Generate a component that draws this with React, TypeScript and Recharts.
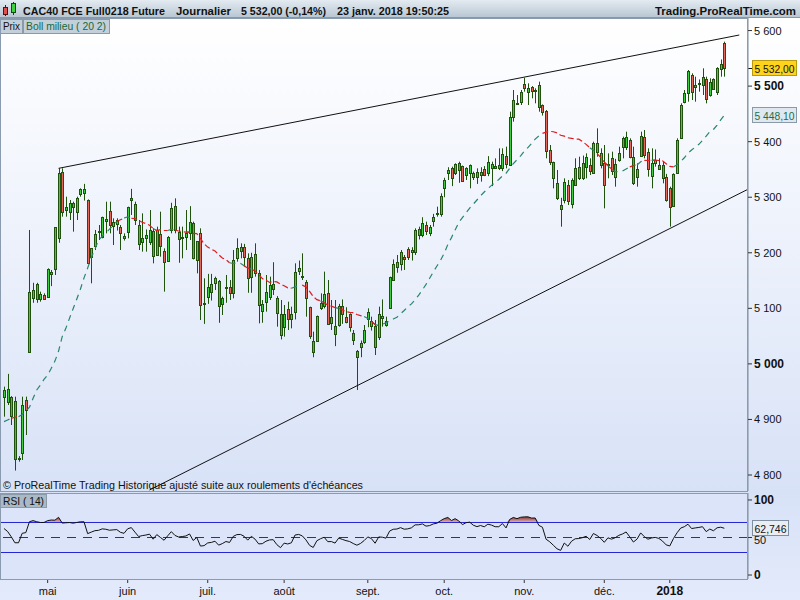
import { ComposedChart, Bar, Line, Area, XAxis, YAxis, ReferenceLine } from 'recharts'

// [open, high, low, close]
type Candle = [number, number, number, number]

const aprilCandles: Candle[] = [
  [4940, 4959, 4905, 4953], [4932, 4982, 4926, 4955], [4940, 4942, 4890, 4907], [4933, 4941, 4808, 4828],
  [4829, 4834, 4824, 4831], [4839, 4941, 4827, 4926], [4935, 4941, 4872, 4917], [5021, 5241, 5021, 5129],
  [5119, 5146, 5110, 5133], [5143, 5146, 5110, 5116], [5117, 5130, 5112, 5125], [5124, 5127, 5116, 5116],
]
const mayCandles: Candle[] = [
  [5121, 5172, 5120, 5171], [5165, 5169, 5140, 5162], [5170, 5246, 5160, 5246], [5226, 5352, 5218, 5344],
  [5345, 5352, 5265, 5273], [5277, 5301, 5265, 5282], [5274, 5295, 5259, 5289], [5289, 5292, 5238, 5282],
  [5274, 5301, 5259, 5298], [5305, 5316, 5301, 5314], [5307, 5324, 5294, 5314], [5295, 5296, 5180, 5181],
  [5193, 5208, 5145, 5208], [5213, 5241, 5205, 5233], [5237, 5250, 5223, 5239], [5229, 5265, 5226, 5264],
  [5258, 5292, 5235, 5260], [5275, 5292, 5235, 5250], [5248, 5262, 5214, 5255], [5252, 5262, 5240, 5259],
  [5246, 5250, 5205, 5235], [5231, 5235, 5222, 5226],
]
const juneCandles: Candle[] = [
  [5238, 5283, 5226, 5282], [5295, 5315, 5268, 5298], [5287, 5292, 5250, 5259], [5250, 5259, 5205, 5216],
  [5219, 5271, 5202, 5226], [5226, 5242, 5202, 5232], [5220, 5277, 5214, 5241], [5240, 5244, 5181, 5194],
  [5196, 5247, 5195, 5241], [5234, 5274, 5193, 5213], [5203, 5208, 5130, 5183], [5186, 5230, 5185, 5229],
  [5241, 5290, 5235, 5280], [5284, 5298, 5235, 5241], [5238, 5247, 5182, 5224], [5228, 5247, 5190, 5229],
  [5228, 5277, 5205, 5235], [5235, 5284, 5223, 5256], [5254, 5256, 5188, 5190], [5187, 5221, 5163, 5221],
  [5235, 5244, 5079, 5106], [5107, 5154, 5072, 5110],
]
const julyCandles: Candle[] = [
  [5120, 5162, 5108, 5138], [5130, 5162, 5114, 5143], [5145, 5157, 5133, 5155], [5150, 5151, 5074, 5104],
  [5107, 5121, 5088, 5118], [5137, 5160, 5110, 5138], [5138, 5151, 5115, 5127], [5127, 5205, 5118, 5187],
  [5190, 5226, 5184, 5208], [5204, 5217, 5190, 5210], [5210, 5216, 5176, 5193], [5190, 5199, 5128, 5154],
  [5156, 5200, 5128, 5192], [5198, 5217, 5157, 5163], [5163, 5169, 5073, 5106], [5096, 5115, 5074, 5108],
  [5111, 5160, 5094, 5130], [5121, 5157, 5115, 5142], [5134, 5183, 5124, 5144], [5118, 5122, 5067, 5091],
  [5089, 5115, 5044, 5052],
]
const augustCandles: Candle[] = [
  [5066, 5106, 5049, 5090], [5098, 5112, 5061, 5080], [5081, 5103, 5064, 5090], [5093, 5181, 5080, 5165],
  [5168, 5186, 5160, 5172], [5157, 5199, 5151, 5158], [5147, 5151, 5085, 5118], [5102, 5103, 5045, 5051],
  [5042, 5058, 5012, 5021], [5042, 5087, 5041, 5087], [5100, 5127, 5097, 5109], [5104, 5166, 5100, 5126],
  [5127, 5151, 5071, 5072], [5085, 5115, 5061, 5073], [5068, 5115, 5032, 5054], [5070, 5108, 5067, 5105],
  [5104, 5116, 5072, 5090], [5085, 5102, 5073, 5076], [5089, 5091, 5058, 5066], [5056, 5061, 5034, 5043],
  [5012, 5025, 4953, 5023], [5031, 5042, 5012, 5037], [5040, 5070, 5036, 5061],
]
const septemberCandles: Candle[] = [
  [5080, 5100, 5066, 5094], [5068, 5085, 5060, 5078], [5068, 5079, 5016, 5030], [5049, 5103, 5043, 5090],
  [5082, 5116, 5067, 5087], [5070, 5085, 5067, 5078], [5100, 5157, 5099, 5156], [5151, 5188, 5150, 5180],
  [5174, 5196, 5164, 5183], [5180, 5205, 5168, 5201], [5192, 5196, 5169, 5189], [5206, 5210, 5187, 5193],
  [5201, 5210, 5186, 5205], [5202, 5244, 5196, 5241], [5232, 5247, 5224, 5242], [5232, 5264, 5228, 5253],
  [5250, 5256, 5232, 5240], [5236, 5250, 5230, 5246], [5258, 5270, 5247, 5264], [5270, 5283, 5265, 5272],
  [5269, 5307, 5265, 5302],
]
const octoberCandles: Candle[] = [
  [5316, 5335, 5300, 5331], [5343, 5354, 5331, 5349], [5352, 5355, 5320, 5334], [5343, 5361, 5340, 5360],
  [5361, 5364, 5326, 5349], [5356, 5357, 5328, 5330], [5340, 5354, 5331, 5352], [5343, 5359, 5316, 5358],
  [5337, 5346, 5331, 5343], [5346, 5352, 5324, 5336], [5340, 5354, 5328, 5346], [5350, 5356, 5338, 5340],
  [5343, 5374, 5338, 5363], [5352, 5364, 5320, 5359], [5357, 5370, 5351, 5352], [5358, 5388, 5349, 5352],
  [5352, 5388, 5347, 5377], [5375, 5391, 5352, 5359], [5358, 5454, 5357, 5445], [5444, 5493, 5436, 5475],
  [5467, 5484, 5466, 5469], [5471, 5493, 5466, 5490],
]
const novemberCandles: Candle[] = [
  [5504, 5515, 5490, 5496], [5489, 5505, 5466, 5497], [5499, 5500, 5478, 5492], [5493, 5496, 5469, 5493],
  [5502, 5508, 5454, 5463], [5466, 5467, 5447, 5454], [5455, 5457, 5370, 5384], [5385, 5394, 5358, 5364],
  [5363, 5364, 5316, 5334], [5325, 5349, 5295, 5298], [5286, 5299, 5247, 5279], [5295, 5334, 5289, 5327],
  [5322, 5331, 5286, 5293], [5287, 5334, 5280, 5331], [5322, 5370, 5321, 5352], [5334, 5373, 5331, 5354],
  [5334, 5375, 5331, 5361], [5355, 5379, 5334, 5372], [5358, 5370, 5340, 5347], [5343, 5400, 5342, 5397],
  [5397, 5424, 5373, 5382], [5379, 5388, 5352, 5358],
]
const decemberCandles: Candle[] = [
  [5361, 5394, 5280, 5322], [5358, 5379, 5334, 5359], [5371, 5382, 5340, 5347], [5337, 5369, 5319, 5359],
  [5367, 5391, 5364, 5379], [5406, 5409, 5370, 5391], [5391, 5418, 5385, 5409], [5403, 5406, 5370, 5373],
  [5372, 5391, 5322, 5326], [5336, 5361, 5319, 5350], [5374, 5418, 5373, 5410], [5409, 5421, 5370, 5376],
  [5382, 5388, 5337, 5350], [5338, 5388, 5316, 5362], [5361, 5386, 5355, 5367], [5350, 5370, 5349, 5358],
  [5358, 5364, 5325, 5334], [5337, 5342, 5292, 5295],
]
const januaryCandles: Candle[] = [
  [5316, 5319, 5247, 5283], [5284, 5343, 5283, 5342], [5344, 5406, 5343, 5403], [5406, 5469, 5405, 5466],
  [5472, 5493, 5469, 5487], [5487, 5529, 5472, 5528], [5520, 5523, 5475, 5490], [5502, 5517, 5472, 5499],
  [5504, 5512, 5490, 5506], [5502, 5532, 5484, 5516], [5512, 5517, 5469, 5476], [5484, 5514, 5481, 5508],
  [5512, 5514, 5493, 5494], [5490, 5534, 5484, 5532], [5530, 5548, 5517, 5540], [5578, 5580, 5517, 5532],
]

const months = [aprilCandles, mayCandles, juneCandles, julyCandles, augustCandles, septemberCandles,
  octoberCandles, novemberCandles, decemberCandles, januaryCandles]
const monthLabels = ['', 'mai', 'juin', 'juil.', 'août', 'sept.', 'oct.', 'nov.', 'déc.', '2018']

// Boll milieu and RSI before a full window exists
const smaLead = [4896, 4899, 4902, 4904, 4905, 4909, 4915, 4922, 4938, 4953, 4962, 4972, 4980, 4992,
  5005, 5023, 5049, 5064, 5082]
const rsiLead = [62, 58, 51, 43, 43, 55.6, 56.5, 71, 72.5, 71, 70, 70, 72.5, 73.3]

const priceTicks = [4800, 4900, 5000, 5100, 5200, 5300, 5400, 5500, 5600]
const rsiTicks = [0, 50, 100]
const upperTrend = [{ x: 15, y: 5352 }, { x: 202.1, y: 5592 }]
const lowerTrend = [{ x: 40, y: 4773 }, { x: 204.4, y: 5314 }]

const lastPrice = { value: 5532, text: '5 532,00' }
const lastBoll = { value: 5448.1, text: '5 448,10' }
const lastRsi = { value: 62.746, text: '62,746' }

const FONT = '"Liberation Sans", Arial, sans-serif'
const WICK = '#1f520c'
const UP = '#3fcc3f'
const DOWN = '#e2685a'
const X_DOMAIN: [number, number] = [-0.82, 204.5]

const candles = months.flat()
const closes = candles.map((k) => k[3])

const monthStarts: number[] = []
const tickLabel = new Map<number, string>()
{
  let n = 0
  months.forEach((m, mi) => {
    if (mi > 0) {
      monthStarts.push(n)
      tickLabel.set(n, monthLabels[mi])
    }
    n += m.length
  })
}

const sma = closes.map((_, i) => {
  if (i < 19) return smaLead[i]
  let s = 0
  for (let j = i - 19; j <= i; j++) s += closes[j]
  return s / 20
})

const rsi: number[] = []
{
  let gainSum = 0
  let lossSum = 0
  let avgGain = 0
  let avgLoss = 0
  closes.forEach((c, i) => {
    if (i === 0) {
      rsi.push(rsiLead[0])
      return
    }
    const d = c - closes[i - 1]
    const g = Math.max(d, 0)
    const l = Math.max(-d, 0)
    if (i < 14) {
      gainSum += g
      lossSum += l
      rsi.push(rsiLead[i])
      return
    }
    if (i === 14) {
      avgGain = (gainSum + g) / 14
      avgLoss = (lossSum + l) / 14
    } else {
      avgGain = (avgGain * 13 + g) / 14
      avgLoss = (avgLoss * 13 + l) / 14
    }
    rsi.push(avgLoss === 0 ? 100 : 100 - 100 / (1 + avgGain / avgLoss))
  })
}

const above = closes.map((c, i) => c >= sma[i])
const rows = candles.map(([o, h, l, c], i) => ({
  i,
  o,
  h,
  l,
  c,
  range: [l, h],
  bollUp: above[i] || above[i + 1] ? sma[i] : null,
  bollDown: !above[i] || above[i + 1] === false ? sma[i] : null,
  rsi: rsi[i],
  rsiHigh: [70, Math.max(rsi[i], 70)],
}))

function CandleShape(props: any) {
  const { x, y, width, height, payload } = props
  if (!payload || x == null || y == null) return null
  const { o, h, l, c } = payload
  const top = Math.min(y, y + height)
  const span = Math.abs(height)
  const toY = (v: number) => (h === l ? top : top + ((h - v) / (h - l)) * span)
  const cx = Math.round(x + width / 2) + 0.5
  const bodyTop = Math.round(toY(Math.max(o, c))) + 0.5
  const bodyBot = Math.round(toY(Math.min(o, c))) + 0.5
  return (
    <g>
      <line x1={cx} x2={cx} y1={top} y2={top + span} stroke={WICK} strokeWidth={1} />
      <rect
        x={cx - 1}
        y={bodyTop}
        width={2}
        height={Math.max(bodyBot - bodyTop, 1)}
        fill={c >= o ? UP : DOWN}
        stroke={WICK}
        strokeWidth={1}
      />
    </g>
  )
}

const fmtPrice = (v: number) => `${Math.floor(v / 1000)} ${String(v % 1000).padStart(3, '0')}`

function PriceTick({ x, y, payload }: any) {
  const bold = payload.value % 500 === 0
  return (
    <text x={x} y={y} dy={4} textAnchor="start" fontFamily={FONT} fontSize={bold ? 12 : 11}
      fontWeight={bold ? 'bold' : 'normal'} fill="#111">
      {fmtPrice(payload.value)}
    </text>
  )
}

function RsiTick({ x, y, payload }: any) {
  const bold = payload.value !== 50
  return (
    <text x={x} y={y} dy={bold ? 4 : 6} textAnchor="start" fontFamily={FONT} fontSize={bold ? 12 : 11}
      fontWeight={bold ? 'bold' : 'normal'} fill="#111">
      {payload.value}
    </text>
  )
}

function MonthTick({ x, y, payload }: any) {
  const label = tickLabel.get(payload.value) ?? ''
  const bold = label === '2018'
  return (
    <text x={x} y={y} dy={10} textAnchor="middle" fontFamily={FONT} fontSize={bold ? 12 : 11}
      fontWeight={bold ? 'bold' : 'normal'} fill="#111">
      {label}
    </text>
  )
}

function ValueTag({ viewBox, text, fill, color, border, w, marker }: any) {
  if (!viewBox) return null
  const x0 = viewBox.x + viewBox.width
  const y0 = Math.round(viewBox.y)
  return (
    <g>
      {marker && <line x1={x0} x2={x0 + 4} y1={y0 + 0.5} y2={y0 + 0.5} stroke="#111" strokeWidth={1} />}
      <rect x={x0 + 4.5} y={y0 - 7.5} width={w} height={15} fill={fill} stroke={border} strokeWidth={1} />
      <text x={x0 + 6.5} y={y0 + 4.5} fontFamily={FONT} fontSize={11.5} fill={color}
        textLength={w - 4} lengthAdjust="spacingAndGlyphs">{text}</text>
    </g>
  )
}

function Overlay() {
  return (
    <svg width={800} height={600} style={{ position: 'absolute', left: 0, top: 0, pointerEvents: 'none' }}>
      <defs>
        <linearGradient id="hdr" x1="0" y1="0" x2="0" y2="1">
          <stop offset="0" stopColor="#e4ebf1" />
          <stop offset="1" stopColor="#b7c5d1" />
        </linearGradient>
      </defs>
      <rect x={0} y={0} width={800} height={18} fill="url(#hdr)" />
      <line x1={0} x2={800} y1={17.5} y2={17.5} stroke="#8898a8" />
      <line x1={5.5} x2={5.5} y1={5} y2={16} stroke="#5a1010" />
      <rect x={3.5} y={7.5} width={4} height={7} fill="#e05050" stroke="#5a1010" />
      <line x1={13.5} x2={13.5} y1={2} y2={15} stroke="#0f4a0f" />
      <rect x={11.5} y={3.5} width={4} height={9} fill="#40d040" stroke="#0f4a0f" />
      <g fontFamily={FONT} fontWeight="bold" fontSize={11.5} fill="#111">
        <text x={23} y={15} textLength={142} lengthAdjust="spacingAndGlyphs">CAC40 FCE Full0218 Future</text>
        <text x={176} y={15} textLength={55} lengthAdjust="spacingAndGlyphs">Journalier</text>
        <text x={241} y={15} textLength={85} lengthAdjust="spacingAndGlyphs">5 532,00 (-0,14%)</text>
        <text x={337} y={15} textLength={112} lengthAdjust="spacingAndGlyphs">23 janv. 2018 19:50:25</text>
        <text x={655} y={15} textLength={141} lengthAdjust="spacingAndGlyphs">Trading.ProRealTime.com</text>
      </g>
      <rect x={0.5} y={19.5} width={22} height={14} fill="#c3cfd9" stroke="#8b9aa8" />
      <rect x={23.5} y={19.5} width={86} height={14} fill="#c3cfd9" stroke="#8b9aa8" />
      <g fontFamily={FONT} fontSize={11.5}>
        <text x={3} y={30} fill="#111" textLength={17} lengthAdjust="spacingAndGlyphs">Prix</text>
        <text x={26} y={30} fill="#17683a" textLength={80} lengthAdjust="spacingAndGlyphs">Boll milieu ( 20 2)</text>
      </g>
      <rect x={0.5} y={18.5} width={747} height={473} fill="none" stroke="#8a9bb0" />
      <rect x={0.5} y={493.5} width={747} height={86} fill="none" stroke="#8a9bb0" />
      <text x={3} y={489} fontFamily={FONT} fontSize={11.5} fill="#111" textLength={360}
        lengthAdjust="spacingAndGlyphs">© ProRealTime Trading  Historique ajusté suite aux roulements d'échéances</text>
      <rect x={0.5} y={494.5} width={46} height={13} fill="#a9b9c6" stroke="#8b9aa8" />
      <text x={3} y={505} fontFamily={FONT} fontSize={11.5} fill="#111" textLength={41}
        lengthAdjust="spacingAndGlyphs">RSI ( 14)</text>
    </svg>
  )
}

export default function App() {
  return (
    <div
      style={{
        position: 'absolute',
        left: 0,
        top: 0,
        width: 800,
        height: 600,
        overflow: 'hidden',
        background: 'linear-gradient(#ffffff 0px, #ffffff 20px, #d8e2f7 492px, #e3eafb 600px)',
      }}
    >
      <div style={{ position: 'absolute', left: 0, top: 493, width: 748, height: 87, background: '#dbe4f8' }} />
      <div style={{ position: 'absolute', left: 0, top: 18 }}>
        <ComposedChart width={800} height={474} data={rows} margin={{ top: 0, right: 0, bottom: 1, left: 1 }}>
          <XAxis dataKey="i" type="number" domain={X_DOMAIN} allowDataOverflow hide />
          <YAxis
            orientation="right"
            domain={[4771.2, 5622.6]}
            allowDataOverflow
            ticks={priceTicks}
            interval={0}
            width={52}
            tickSize={4}
            tickMargin={2}
            tick={<PriceTick />}
            axisLine={{ stroke: '#7d8d9d' }}
            tickLine={{ stroke: '#333' }}
          />
          <Bar dataKey="range" shape={<CandleShape />} isAnimationActive={false} />
          <Line dataKey="bollUp" stroke="#27876a" strokeWidth={1.2} strokeDasharray="6 5" dot={false}
            activeDot={false} connectNulls={false} isAnimationActive={false} />
          <Line dataKey="bollDown" stroke="#e01c1c" strokeWidth={1.2} strokeDasharray="6 3" dot={false}
            activeDot={false} connectNulls={false} isAnimationActive={false} />
          <ReferenceLine segment={upperTrend} stroke="#111" strokeWidth={1} ifOverflow="visible" />
          <ReferenceLine segment={lowerTrend} stroke="#111" strokeWidth={1} ifOverflow="visible" />
          <ReferenceLine y={lastPrice.value} stroke="none" ifOverflow="visible"
            label={<ValueTag text={lastPrice.text} fill="#ffd21c" color="#111" border="#b89a10" w={44} marker />} />
          <ReferenceLine y={lastBoll.value} stroke="none" ifOverflow="visible"
            label={<ValueTag text={lastBoll.text} fill="#dfe8f1" color="#17704a" border="#8a9aa8" w={44} />} />
        </ComposedChart>
      </div>
      <div style={{ position: 'absolute', left: 0, top: 493 }}>
        <ComposedChart width={800} height={107} data={rows} margin={{ top: 0, right: 0, bottom: 0, left: 1 }}>
          <defs>
            <linearGradient id="rsiHot" x1="0" y1="0" x2="0" y2="1">
              <stop offset="0" stopColor="#8a3434" />
              <stop offset="1" stopColor="#e2bcbc" />
            </linearGradient>
          </defs>
          <XAxis
            dataKey="i"
            type="number"
            domain={X_DOMAIN}
            allowDataOverflow
            ticks={monthStarts}
            interval={0}
            height={21}
            tickSize={4}
            tickMargin={2}
            tick={<MonthTick />}
            axisLine={false}
            tickLine={{ stroke: '#333' }}
          />
          <YAxis
            orientation="right"
            domain={[-5.3, 109.3]}
            allowDataOverflow
            ticks={rsiTicks}
            interval={0}
            width={52}
            tickSize={4}
            tickMargin={2}
            tick={<RsiTick />}
            axisLine={{ stroke: '#7d8d9d' }}
            tickLine={{ stroke: '#333' }}
          />
          <Area dataKey="rsiHigh" stroke="none" fill="url(#rsiHot)" fillOpacity={1} dot={false}
            activeDot={false} isAnimationActive={false} />
          <ReferenceLine y={70} stroke="#2626d6" strokeWidth={1} />
          <ReferenceLine y={30} stroke="#2626d6" strokeWidth={1} />
          <ReferenceLine y={50} stroke="#2626d6" strokeWidth={1} strokeDasharray="9 7" />
          <Line dataKey="rsi" stroke="#111" strokeWidth={1} dot={false} activeDot={false}
            isAnimationActive={false} />
          <ReferenceLine y={lastRsi.value} stroke="none" ifOverflow="visible"
            label={<ValueTag text={lastRsi.text} fill="#e9eef4" color="#111" border="#7f8f9f" w={36} />} />
        </ComposedChart>
      </div>
      <Overlay />
    </div>
  )
}
